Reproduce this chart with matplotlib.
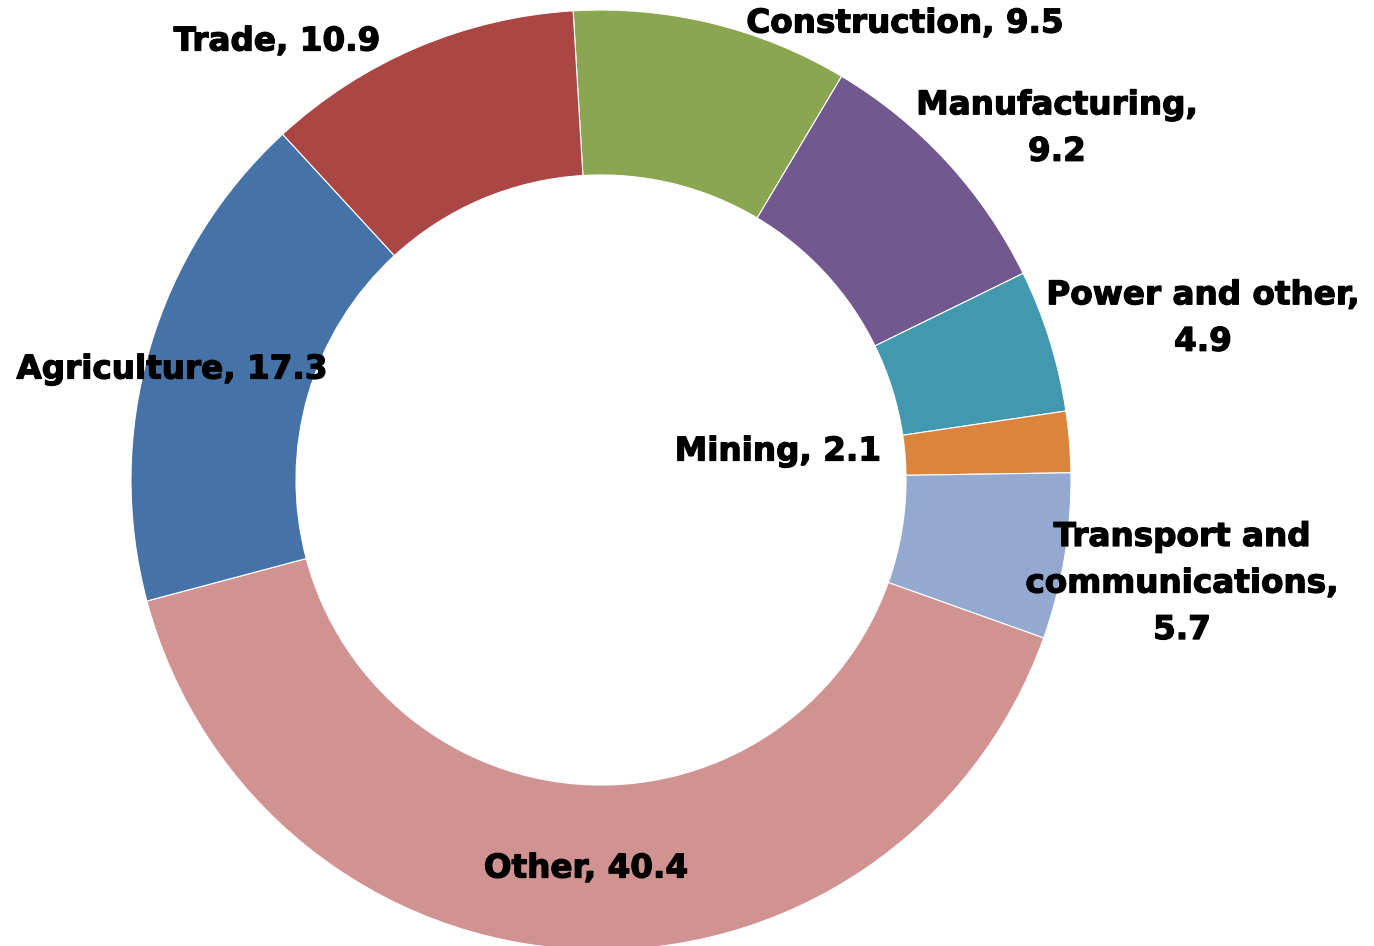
import matplotlib.pyplot as plt
import matplotlib.patheffects as pe

plt.rcParams['font.family'] = ['DejaVu Sans']

sectors = ['Construction', 'Manufacturing', 'Power and other', 'Mining',
           'Transport and communications', 'Other', 'Agriculture', 'Trade']
shares = [9.5, 9.2, 4.9, 2.1, 5.7, 40.4, 17.3, 10.9]
colors = ['#8BA650', '#71588F', '#4198AF', '#DB843D',
          '#93A9CF', '#D19392', '#4572A7', '#AA4643']

# label text as shown on the chart (line breaks) and pixel centres of the labels
label_text = ['Construction, 9.5', 'Manufacturing,\n9.2', 'Power and other,\n4.9',
              'Mining, 2.1', 'Transport and\ncommunications,\n5.7', 'Other, 40.4',
              'Agriculture, 17.3', 'Trade, 10.9']
label_px = [(905, 23), (1057, 128), (1203, 318), (778, 451),
            (1182, 583), (586, 868), (172, 369), (277, 41)]

W, H = 1374, 946
cx, cy, R = 601, 480, 470

fig = plt.figure(figsize=(W / 100, H / 100), dpi=100)
ax = fig.add_axes([(cx - R) / W, (H - cy - R) / H, 2 * R / W, 2 * R / H])

ax.pie(shares, colors=colors, startangle=93.4, counterclock=False, radius=1,
       wedgeprops=dict(width=0.351, edgecolor='white', linewidth=0.8))
ax.set_xlim(-1, 1)
ax.set_ylim(-1, 1)
ax.set_aspect('equal')
ax.axis('off')

for txt, (px, py) in zip(label_text, label_px):
    ax.text((px - cx) / R, (cy - py) / R, txt, ha='center', va='center',
            fontsize=23.5, fontweight='bold', linespacing=1.52, clip_on=False,
            path_effects=[pe.withStroke(linewidth=0.9, foreground='black')])

fig.savefig('out.png', dpi=100)
